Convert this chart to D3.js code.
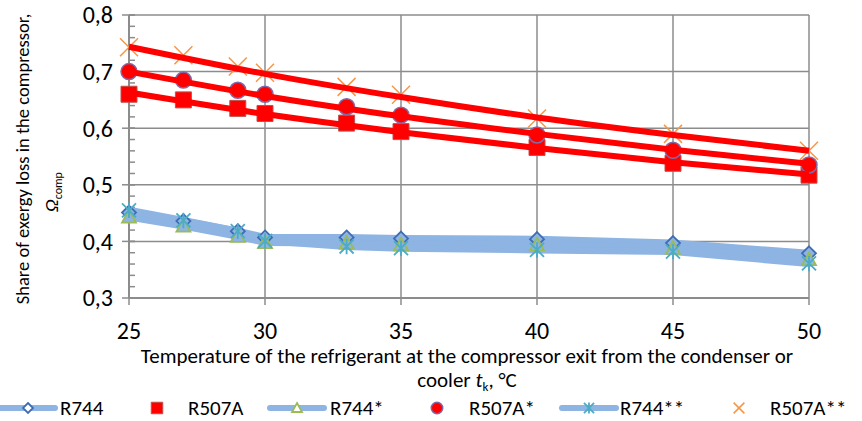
<!DOCTYPE html>
<html>
<head>
<meta charset="utf-8">
<script src="https://cdn.jsdelivr.net/npm/d3@7"></script>
<style>
  html, body { margin: 0; padding: 0; background: #fff; }
  svg { display: block; font-family: Carlito, Lato, "Liberation Sans", sans-serif; }
</style>
</head>
<body>
<svg id="chart" width="862" height="421"></svg>
<script>
// Condenser / cooler exit temperature, °C
const temps = [25, 27, 29, 30, 33, 35, 40, 45, 50];

// Share of exergy loss in the compressor, per refrigerant case
const r744      = [0.451, 0.436, 0.418, 0.407, 0.407, 0.405, 0.404, 0.397, 0.379];
const r744s     = [0.443, 0.427, 0.409, 0.398, 0.397, 0.394, 0.394, 0.388, 0.368];
const r744ss    = [0.455, 0.437, 0.418, 0.401, 0.391, 0.388, 0.385, 0.382, 0.361];
const r507a     = [0.660, 0.650, 0.635, 0.626, 0.609, 0.594, 0.566, 0.538, 0.517];
const r507as    = [0.700, 0.685, 0.667, 0.660, 0.638, 0.623, 0.588, 0.561, 0.535];
const r507ass   = [0.743, 0.729, 0.709, 0.698, 0.673, 0.659, 0.617, 0.590, 0.560];

// Trend curves for the R507A cases
const trendTemps  = [25, 30, 35, 40, 45, 50];
const trendR507A  = [0.663, 0.625, 0.593, 0.565, 0.540, 0.518];
const trendR507As = [0.700, 0.657, 0.621, 0.590, 0.562, 0.537];
const trendR507Ass= [0.744, 0.696, 0.655, 0.619, 0.588, 0.560];

const xTicks = [25, 30, 35, 40, 45, 50];
const yTicks = [0.3, 0.4, 0.5, 0.6, 0.7, 0.8];
const yMinor = d3.range(0.30, 0.8001, 0.02);

const svg = d3.select("#chart");
const x = d3.scaleLinear().domain([25, 50]).range([129, 809]);
const y = d3.scaleLinear().domain([0.3, 0.8]).range([298, 15]);

const gridCol = "#8c8c8c";
const lineBlue = "#8db4e2";

// Gridlines
const grid = svg.append("g");
grid.selectAll("line.h").data(yTicks).join("line")
  .attr("x1", x(25)).attr("x2", x(50))
  .attr("y1", d => y(d)).attr("y2", d => y(d))
  .attr("stroke", gridCol).attr("stroke-width", 1.5);
grid.selectAll("line.v").data(xTicks).join("line")
  .attr("x1", d => x(d)).attr("x2", d => x(d))
  .attr("y1", y(0.3)).attr("y2", y(0.8))
  .attr("stroke", gridCol).attr("stroke-width", 1.5);

// Y axis with minor ticks
const yAxisG = svg.append("g");
yAxisG.selectAll("line.minor").data(yMinor).join("line")
  .attr("x1", x(25)).attr("x2", x(25) + 6)
  .attr("y1", d => y(d)).attr("y2", d => y(d))
  .attr("stroke", gridCol).attr("stroke-width", 1.5);
yAxisG.selectAll("line.major").data(yTicks).join("line")
  .attr("x1", x(25) - 7).attr("x2", x(25) + 6)
  .attr("y1", d => y(d)).attr("y2", d => y(d))
  .attr("stroke", gridCol).attr("stroke-width", 1.5);
yAxisG.append("line")
  .attr("x1", x(25)).attr("x2", x(25)).attr("y1", y(0.3)).attr("y2", y(0.8))
  .attr("stroke", gridCol).attr("stroke-width", 2);
yAxisG.selectAll("text").data(yTicks).join("text")
  .attr("x", 113).attr("y", d => y(d)).attr("dy", "0.35em")
  .attr("text-anchor", "end").attr("font-size", 24).attr("fill", "#000")
  .text(d => d3.format(".1f")(d).replace(".", ","));

// X axis
const xAxisG = svg.append("g");
xAxisG.append("line")
  .attr("x1", x(25)).attr("x2", x(50)).attr("y1", y(0.3)).attr("y2", y(0.3))
  .attr("stroke", gridCol).attr("stroke-width", 2);
xAxisG.selectAll("line.tick").data(xTicks).join("line")
  .attr("x1", d => x(d)).attr("x2", d => x(d))
  .attr("y1", y(0.3)).attr("y2", y(0.3) + 7)
  .attr("stroke", gridCol).attr("stroke-width", 1.5);
xAxisG.selectAll("text").data(xTicks).join("text")
  .attr("x", d => x(d)).attr("y", 331).attr("dy", "0.35em")
  .attr("text-anchor", "middle").attr("font-size", 24).attr("fill", "#000")
  .text(d => d);

// Marker shapes
function diamondPath(s) { return `M0,${-s}L${s},0L0,${s}L${-s},0Z`; }
function trianglePath(s) { return `M0,${-s}L${s},${s * 0.8}L${-s},${s * 0.8}Z`; }
function squarePath(s) { return `M${-s},${-s}H${s}V${s}H${-s}Z`; }
function starPath(s) { return `M${-s},${-s}L${s},${s}M${s},${-s}L${-s},${s}M0,${-s * 1.1}V${s * 1.1}`; }
function crossPath(s) { return `M${-s},${-s}L${s},${s}M${s},${-s}L${-s},${s}`; }

const markerStyles = {
  diamond:  { path: diamondPath(7),  fill: lineBlue, stroke: "#3e6db5", sw: 1.8 },
  triangle: { path: trianglePath(7), fill: lineBlue, stroke: "#9bbb59", sw: 1.8 },
  star:     { path: starPath(7),     fill: "none",   stroke: "#4bacc6", sw: 1.8 },
  square:   { path: squarePath(8),   fill: "#ff0000", stroke: "#c0504d", sw: 1 },
  circle:   { path: null,            fill: "#ff0000", stroke: "#7f6aa8", sw: 1.5 },
  cross:    { path: crossPath(9),    fill: "none",   stroke: "#f79646", sw: 1.5 }
};

function drawMarker(g, kind, cx, cy, scale = 1) {
  const st = markerStyles[kind];
  if (kind === "circle") {
    g.append("circle").attr("cx", cx).attr("cy", cy).attr("r", 8 * scale)
      .attr("fill", st.fill).attr("stroke", st.stroke).attr("stroke-width", st.sw);
  } else {
    g.append("path").attr("d", st.path)
      .attr("transform", `translate(${cx},${cy}) scale(${scale})`)
      .attr("fill", st.fill).attr("stroke", st.stroke).attr("stroke-width", st.sw / scale);
  }
}

const line = d3.line().x(d => x(d[0])).y(d => y(d[1]));
const trend = d3.line().x(d => x(d[0])).y(d => y(d[1])).curve(d3.curveMonotoneX);

const series = [
  { name: "R744",    vals: r744,    kind: "diamond",  lined: true },
  { name: "R507A",   vals: r507a,   kind: "square",   lined: false },
  { name: "R744*",   vals: r744s,   kind: "triangle", lined: true },
  { name: "R507A*",  vals: r507as,  kind: "circle",   lined: false },
  { name: "R744**",  vals: r744ss,  kind: "star",     lined: true },
  { name: "R507A**", vals: r507ass, kind: "cross",    lined: false }
];

const plot = svg.append("g");

// Blue connecting lines
series.filter(s => s.lined).forEach(s => {
  plot.append("path").datum(temps.map((t, i) => [t, s.vals[i]]))
    .attr("d", line).attr("fill", "none")
    .attr("stroke", lineBlue).attr("stroke-width", 7)
    .attr("stroke-linejoin", "round").attr("stroke-linecap", "round");
});

// Markers
series.forEach(s => {
  const g = plot.append("g");
  temps.forEach((t, i) => drawMarker(g, s.kind, x(t), y(s.vals[i])));
});

// Red trend curves
[trendR507A, trendR507As, trendR507Ass].forEach(vals => {
  plot.append("path").datum(trendTemps.map((t, i) => [t, vals[i]]))
    .attr("d", trend).attr("fill", "none")
    .attr("stroke", "#ff0000").attr("stroke-width", 6);
});

// Axis titles
svg.append("text")
  .attr("transform", "translate(29,159) rotate(-90)")
  .attr("text-anchor", "middle").attr("font-size", 18.5).attr("fill", "#000")
  .text("Share of exergy loss in the compressor,");
const yTitle2 = svg.append("text")
  .attr("transform", "translate(58,192) rotate(-90)")
  .attr("text-anchor", "middle").attr("font-size", 19).attr("fill", "#000");
yTitle2.append("tspan").attr("font-style", "italic").text("Ω");
yTitle2.append("tspan").attr("font-size", 12).attr("dy", 4).text("comp");

svg.append("text")
  .attr("x", 467).attr("y", 363).attr("text-anchor", "middle")
  .attr("font-size", 21).attr("fill", "#000")
  .text("Temperature of the refrigerant at the compressor exit from the condenser or");
const xt2 = svg.append("text")
  .attr("x", 467).attr("y", 387).attr("text-anchor", "middle")
  .attr("font-size", 21).attr("fill", "#000");
xt2.append("tspan").text("cooler ");
xt2.append("tspan").attr("font-style", "italic").text("t");
xt2.append("tspan").attr("font-size", 13).attr("dy", 4).text("k");
xt2.append("tspan").attr("dy", -4).text(", °C");

// Legend
const legendItems = [
  { name: "R744",    kind: "diamond",  lined: true,  mx: 28,  tx: 60 },
  { name: "R507A",   kind: "square",   lined: false, mx: 157, tx: 188 },
  { name: "R744*",   kind: "triangle", lined: true,  mx: 297, tx: 330 },
  { name: "R507A*",  kind: "circle",   lined: false, mx: 437, tx: 469 },
  { name: "R744**",  kind: "star",     lined: true,  mx: 589, tx: 620 },
  { name: "R507A**", kind: "cross",    lined: false, mx: 739, tx: 770 }
];
const ly = 408;
const legend = svg.append("g");
legendItems.forEach(it => {
  if (it.lined) {
    legend.append("line").attr("x1", it.mx - 27).attr("x2", it.mx + 27)
      .attr("y1", ly).attr("y2", ly)
      .attr("stroke", lineBlue).attr("stroke-width", 6).attr("stroke-linecap", "round");
  }
  const sc = it.kind === "cross" ? 0.6 : 0.72;
  if (it.kind === "diamond" || it.kind === "triangle") {
    legend.append("path").attr("d", it.kind === "diamond" ? diamondPath(5) : trianglePath(5))
      .attr("transform", `translate(${it.mx},${ly})`)
      .attr("fill", "#fff").attr("stroke", markerStyles[it.kind].stroke).attr("stroke-width", 1.8);
  } else {
    drawMarker(legend, it.kind, it.mx, ly, sc);
  }
  legend.append("text").attr("x", it.tx).attr("y", ly).attr("dy", "0.35em")
    .attr("font-size", 21).attr("fill", "#000").text(it.name);
});
</script>
</body>
</html>
